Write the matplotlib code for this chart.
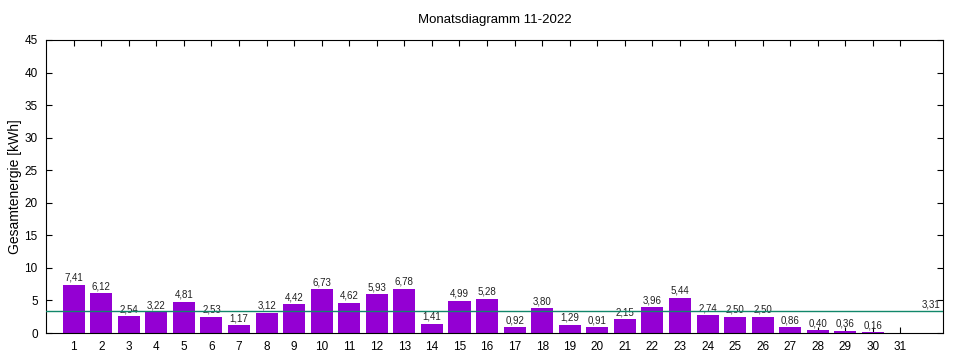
import matplotlib
matplotlib.use("Agg")
import matplotlib.pyplot as plt

# Tageswerte November 2022
days = list(range(1, 32))
energy = [7.41, 6.12, 2.54, 3.22, 4.81, 2.53, 1.17, 3.12, 4.42, 6.73,
          4.62, 5.93, 6.78, 1.41, 4.99, 5.28, 0.92, 3.80, 1.29, 0.91,
          2.15, 3.96, 5.44, 2.74, 2.50, 2.50, 0.86, 0.40, 0.36, 0.16, 0.0]
average = 3.31

plt.rcParams["font.family"] = ["Liberation Sans", "DejaVu Sans"]

fig = plt.figure(figsize=(9.6, 3.6), dpi=100)
ax = fig.add_axes([0.048, 0.075, 0.9345, 0.814])

ax.bar(days, energy, width=0.8, color="#9400d3", zorder=2)
for d, v in zip(days, energy):
    if v > 0:
        ax.text(d, v + 0.3, f"{v:.2f}".replace(".", ","), ha="center",
                va="bottom", fontsize=7, color="#222222")

# Monatsdurchschnitt
ax.axhline(average, color="#11876a", lw=1, zorder=3)
ax.text(32.45, average + 0.3, f"{average:.2f}".replace(".", ","), ha="right",
        va="bottom", fontsize=7, color="#222222")

ax.set_xlim(0, 32.55)
ax.set_ylim(0, 45)
ax.set_xticks(days)
ax.set_yticks(range(0, 46, 5))
ax.tick_params(direction="in", top=True, right=True, length=4,
               labelsize=8.5, pad=6)
ax.set_ylabel("Gesamtenergie [kWh]", fontsize=10, labelpad=2)
ax.set_title("Monatsdiagramm 11-2022", fontsize=9.5, pad=12)

fig.savefig("out.png", dpi=100)
